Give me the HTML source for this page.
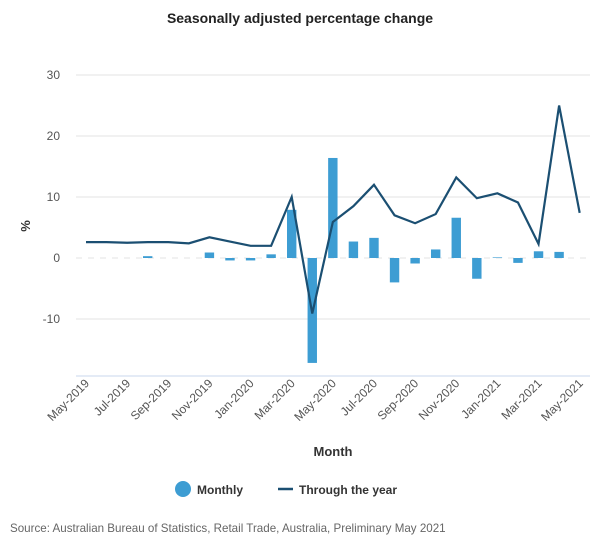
<!DOCTYPE html>
<html><head><meta charset="utf-8"><style>
body{margin:0;background:#fff;font-family:"Liberation Sans",sans-serif;}
svg text{font-family:"Liberation Sans",sans-serif;}
</style></head><body>
<svg id="chart" width="600" height="550">
<text x="300" y="23" text-anchor="middle" font-size="14" font-weight="bold" fill="#222">Seasonally adjusted percentage change</text>
<g id="grid"></g><g id="bars"></g><g id="line"></g><g id="xlabels"></g>
<text transform="translate(30,226) rotate(-90)" text-anchor="middle" font-size="13" font-weight="bold" fill="#333">%</text>
<text x="333" y="456" text-anchor="middle" font-size="13" font-weight="bold" fill="#333">Month</text>
<g><circle cx="183" cy="489" r="8" fill="#3d9dd3"/><text x="197" y="494" font-size="12" font-weight="bold" fill="#333">Monthly</text></g>
<g><line x1="278" y1="489" x2="293" y2="489" stroke="#1b4f72" stroke-width="2.5"/><text x="299" y="494" font-size="12" font-weight="bold" fill="#333">Through the year</text></g>
<text x="10" y="532" font-size="11.6" fill="#666">Source: Australian Bureau of Statistics, Retail Trade, Australia, Preliminary May 2021</text>
</svg>
<script>
const categories=["May-2019","Jun-2019","Jul-2019","Aug-2019","Sep-2019","Oct-2019","Nov-2019","Dec-2019","Jan-2020","Feb-2020","Mar-2020","Apr-2020","May-2020","Jun-2020","Jul-2020","Aug-2020","Sep-2020","Oct-2020","Nov-2020","Dec-2020","Jan-2021","Feb-2021","Mar-2021","Apr-2021","May-2021"];
const monthly=[0,0,0,0.3,0,0,0.9,-0.4,-0.4,0.6,7.9,-17.2,16.4,2.7,3.3,-4.0,-0.9,1.4,6.6,-3.4,0.1,-0.8,1.1,1.0,null];
const throughYear=[2.6,2.6,2.5,2.6,2.6,2.4,3.4,2.7,2.0,2.0,10.0,-9.1,5.9,8.5,12.0,7.0,5.7,7.2,13.2,9.8,10.6,9.1,2.3,25.0,7.4];
const yTicks=[30,20,10,0,-10];
const NS="http://www.w3.org/2000/svg";
const x0=86,step=20.57,y0=258,ppu=6.1;
const xs=i=>x0+i*step, ys=v=>y0-v*ppu;
function mk(t,a,p){const e=document.createElementNS(NS,t);for(const k in a)e.setAttribute(k,a[k]);p.appendChild(e);return e;}
const grid=document.getElementById('grid');
yTicks.forEach(v=>{
  const l=mk('line',{x1:76,x2:590,y1:ys(v),y2:ys(v),stroke:'#e3e3e3','stroke-width':1},grid);
  if(v===0){l.setAttribute('stroke-dasharray','6,6');}
  
  
  const t=mk('text',{x:60,y:ys(v)+4,'text-anchor':'end','font-size':12,fill:'#555'},grid);
  t.textContent=v;
  
  
});
const ax=mk('line',{x1:76,x2:590,y1:376,y2:376,stroke:'#c9d7ee','stroke-width':1},grid);


const bars=document.getElementById('bars');
monthly.forEach((v,i)=>{
  if(v===null||v===0)return;
  const top=Math.min(ys(v),y0),h=Math.abs(ys(v)-y0);
  const r=mk('rect',{x:xs(i)-4.7,y:top,width:9.4,height:h,fill:'#3d9dd3'},bars);
  
  
});
const p=mk('polyline',{points:throughYear.map((v,i)=>xs(i)+','+ys(v)).join(' '),fill:'none',stroke:'#1b4f72','stroke-width':2.2,'stroke-linejoin':'miter'},document.getElementById('line'));


const xl=document.getElementById('xlabels');
categories.forEach((c,i)=>{
  if(i%2)return;
  const t=mk('text',{transform:`translate(${xs(i)+4},384) rotate(-45)`,'text-anchor':'end','font-size':12,fill:'#555'},xl);
  t.textContent=c;
  
  
});
</script>
</body></html>
